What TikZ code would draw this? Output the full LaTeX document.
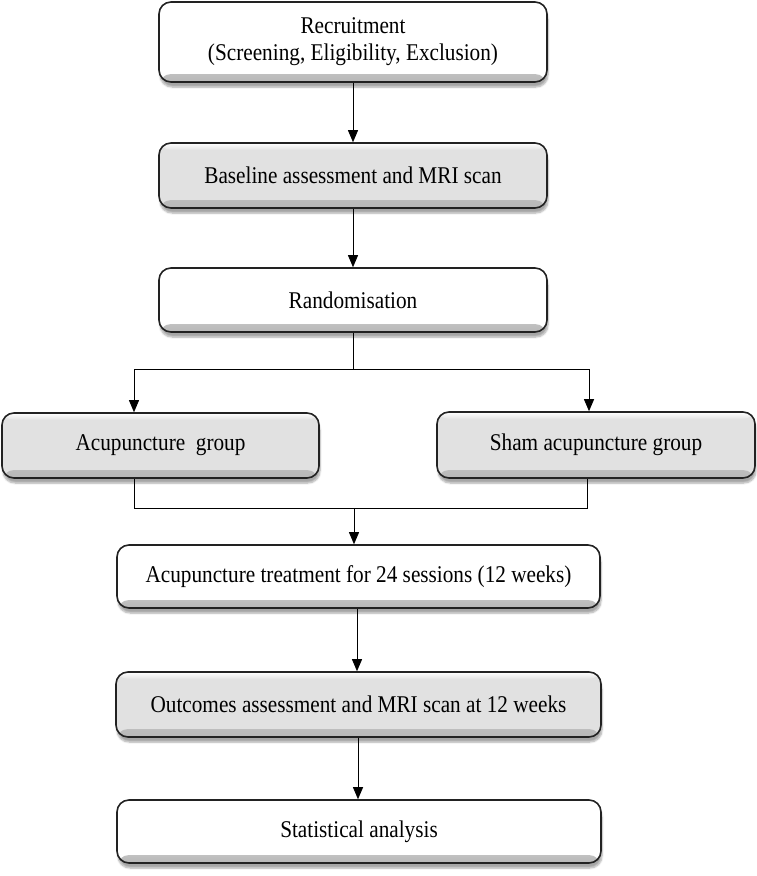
\documentclass[tikz,border=0pt]{standalone}
\usepackage{fontspec}
\setmainfont{Liberation Serif}
\usetikzlibrary{arrows.meta,shadows.blur}
\definecolor{boxgray}{HTML}{E1E1E1}
\definecolor{edge}{HTML}{222222}
\newcommand{\sqz}[1]{\scalebox{0.885}[1]{#1}}
\tikzset{
  flowbox/.style={draw=edge, line width=1.6pt, rounded corners=12pt, align=center,
    inner sep=0pt, font=\fontsize{24}{27}\selectfont, fill=#1,
    blur shadow={shadow xshift=1pt, shadow yshift=-5pt, shadow blur steps=6, shadow opacity=35},
    path picture={
      \shade[top color=#1, bottom color=black!28]
        ([yshift=8pt]path picture bounding box.south west) rectangle (path picture bounding box.south east);
      \shade[top color=white, bottom color=#1]
        (path picture bounding box.north west) rectangle ([yshift=-7pt]path picture bounding box.north east);
    }},
  whitebox/.style={flowbox=white},
  graybox/.style={flowbox=boxgray},
  arr/.style={line width=0.9pt, draw=black, -{Triangle[width=10pt,length=12pt]}},
  ln/.style={line width=0.9pt, draw=black}
}
\begin{document}
\begin{tikzpicture}[x=1pt,y=-1pt]
\useasboundingbox (0,0) rectangle (756,876);
\node[whitebox, minimum width=388pt, minimum height=80pt] (rec) at (353,42)
  {\sqz{Recruitment}\\\sqz{(Screening, Eligibility, Exclusion)}};
\node[graybox, minimum width=388pt, minimum height=65pt] (base) at (353,175.5)
  {\sqz{Baseline assessment and MRI scan}};
\node[whitebox, minimum width=388pt, minimum height=64pt] (rand) at (353,300)
  {\sqz{Randomisation}};
\node[graybox, minimum width=317pt, minimum height=65pt] (acu) at (160.5,445.5)
  {\sqz{Acupuncture\ \ group}};
\node[graybox, minimum width=318pt, minimum height=66pt] (sham) at (596,445)
  {\sqz{Sham acupuncture group}};
\node[whitebox, minimum width=483pt, minimum height=63pt] (treat) at (358.5,576.5)
  {\sqz{Acupuncture treatment for 24 sessions (12 weeks)}};
\node[graybox, minimum width=485pt, minimum height=65pt] (out) at (358.5,704.5)
  {\sqz{Outcomes assessment and MRI scan at 12 weeks}};
\node[whitebox, minimum width=484pt, minimum height=63pt] (stat) at (359,831.5)
  {\sqz{Statistical analysis}};

\coordinate (br) at (353,369);
\coordinate (bl) at (134,369);
\coordinate (bR) at (589,369);
\coordinate (ml) at (134,508);
\coordinate (mr) at (587,508);
\coordinate (mc) at (354,508);
\coordinate (c1) at (357,0);
\coordinate (c2) at (358,0);

\draw[arr] (rec.south) -- (base.north);
\draw[arr] (base.south) -- (rand.north);
\draw[ln] (rand.south) -- (br);
\draw[ln] (bl) -- (bR);
\draw[arr] (bl) -- (bl |- acu.north);
\draw[arr] (bR) -- (bR |- sham.north);
\draw[ln] (ml |- acu.south) -- (ml) -- (mr) -- (mr |- sham.south);
\draw[arr] (mc) -- (mc |- treat.north);
\draw[arr] (c1 |- treat.south) -- (c1 |- out.north);
\draw[arr] (c2 |- out.south) -- (c2 |- stat.north);
\end{tikzpicture}
\end{document}
